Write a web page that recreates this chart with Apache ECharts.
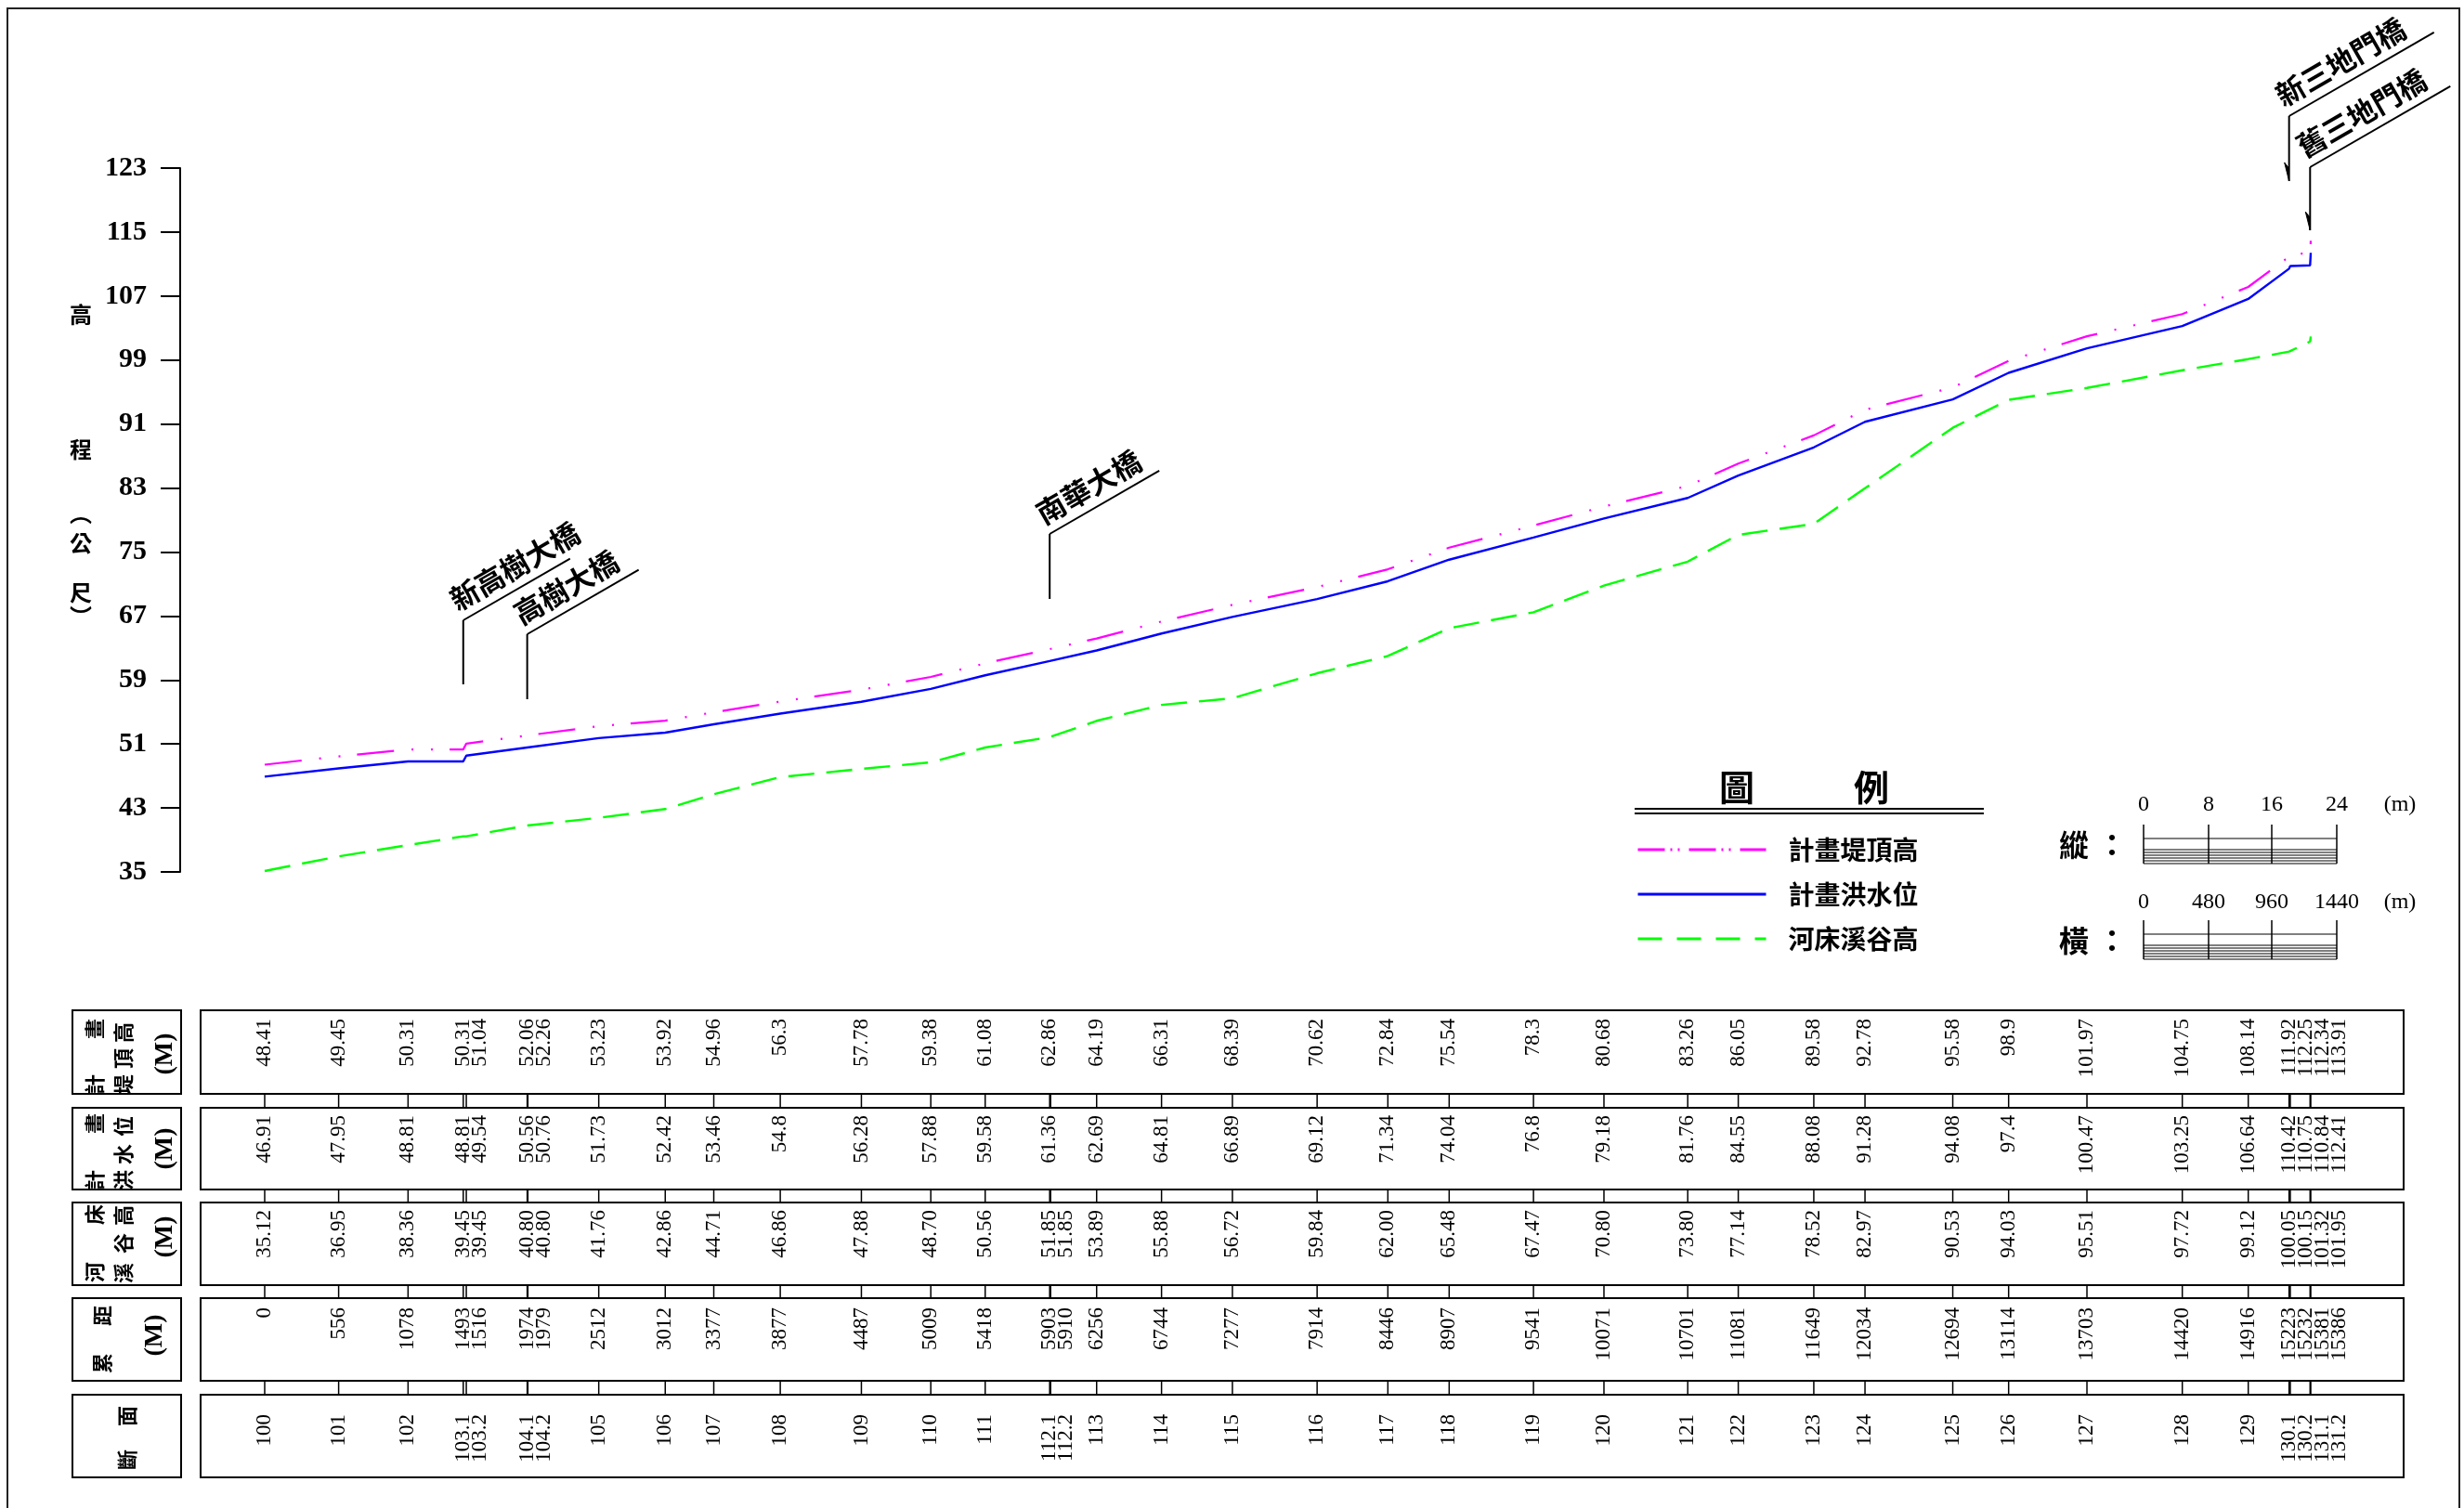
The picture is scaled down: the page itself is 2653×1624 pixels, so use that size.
<!DOCTYPE html>
<html><head><meta charset="utf-8">
<script src="https://cdn.jsdelivr.net/npm/echarts@6/dist/echarts.min.js"></script>
<style>html,body{margin:0;padding:0;background:#fff}#c{width:2653px;height:1624px}</style>
</head><body><div id="c"></div>
<script>
// ---------------- DATA ----------------
const sections = ['100','101','102','103.1','103.2','104.1','104.2','105','106','107','108','109','110','111','112.1','112.2','113','114','115','116','117','118','119','120','121','122','123','124','125','126','127','128','129','130.1','130.2','131.1','131.2'];
const distances = [0,556,1078,1493,1516,1974,1979,2512,3012,3377,3877,4487,5009,5418,5903,5910,6256,6744,7277,7914,8446,8907,9541,10071,10701,11081,11649,12034,12694,13114,13703,14420,14916,15223,15232,15381,15386];
const dikeTop = [48.41,49.45,50.31,50.31,51.04,52.06,52.26,53.23,53.92,54.96,56.3,57.78,59.38,61.08,62.86,null,64.19,66.31,68.39,70.62,72.84,75.54,78.3,80.68,83.26,86.05,89.58,92.78,95.58,98.9,101.97,104.75,108.14,111.92,112.25,112.34,113.91];
const floodLevel = [46.91,47.95,48.81,48.81,49.54,50.56,50.76,51.73,52.42,53.46,54.8,56.28,57.88,59.58,61.36,null,62.69,64.81,66.89,69.12,71.34,74.04,76.8,79.18,81.76,84.55,88.08,91.28,94.08,97.4,100.47,103.25,106.64,110.42,110.75,110.84,112.41];
const bedLevel = [35.12,36.95,38.36,39.45,39.45,40.80,40.80,41.76,42.86,44.71,46.86,47.88,48.70,50.56,51.85,51.85,53.89,55.88,56.72,59.84,62.00,65.48,67.47,70.80,73.80,77.14,78.52,82.97,90.53,94.03,95.51,97.72,99.12,100.05,100.15,101.32,101.95];
const yTicks = [35,43,51,59,67,75,83,91,99,107,115,123];
const seriesNames = ['計畫堤頂高','計畫洪水位','河床溪谷高'];
const bridgeNames = ['新高樹大橋','高樹大橋','南華大橋','新三地門橋','舊三地門橋'];
const bridgeDistances = [1493,1974,5903,15223,15381];
const vScaleLabels = ['0','8','16','24','(m)'];
const hScaleLabels = ['0','480','960','1440','(m)'];

// ---------------- LAYOUT ----------------
const SERIF = '"Liberation Serif","Times New Roman",serif';
const CJK = '"Noto Sans CJK TC","Noto Sans CJK SC",sans-serif';
const ROWS = [{top:1088,bottom:1178},{top:1193,bottom:1281},{top:1295,bottom:1384},{top:1398,bottom:1487},{top:1502,bottom:1591}];
const LABEL_OFFSET = [9,8,8,10,21];
const STACK_PITCH = 18;
const BRIDGE_LAYOUT = [
  {bottom:737, top:668, dx:115, arrow:false},
  {bottom:753, top:683, dx:120, arrow:false},
  {bottom:645, top:575, dx:118, arrow:false},
  {bottom:195, top:125, dx:156, arrow:true},
  {bottom:248, top:180, dx:151, arrow:true}
];

const rowLabels = [
  dikeTop.map(v => v == null ? '' : String(v)),
  floodLevel.map(v => v == null ? '' : String(v)),
  bedLevel.map(v => v.toFixed(2)),
  distances.map(String),
  sections
];

function stacked(xs, labels){
  const out = []; let prev = -1e9;
  for (let i = 0; i < xs.length; i++){
    if (!labels[i]) { out.push(null); continue; }
    const p = Math.max(xs[i], prev + STACK_PITCH);
    out.push(p); prev = p;
  }
  return out;
}

function renderTable(params, api){
  const i = params.dataIndex;
  const xs = distances.map(d => api.coord([d, 35])[0]);
  const x = xs[i];
  const children = [];
  for (let g = 0; g < 4; g++){
    children.push({type:'line', shape:{x1:x, y1:ROWS[g].bottom, x2:x, y2:ROWS[g+1].top},
      style:{stroke:'#000', lineWidth:1.5}});
  }
  rowLabels.forEach((labels, r) => {
    const pos = stacked(xs, labels);
    if (pos[i] == null) return;
    children.push({type:'text', x:pos[i], y:ROWS[r].top + LABEL_OFFSET[r], rotation:Math.PI/2,
      style:{text:labels[i], font:'23px ' + SERIF, fill:'#000',
        align:'right', verticalAlign:'middle', textAlign:'right', textVerticalAlign:'middle'}});
  });
  return {type:'group', children};
}

function renderBridge(params, api){
  const i = params.dataIndex;
  const L = BRIDGE_LAYOUT[i];
  const x = api.coord([api.value(0), 35])[0];
  const ang = Math.PI / 6;
  const ex = x + L.dx, ey = L.top - L.dx * Math.tan(ang);
  const children = [
    {type:'line', shape:{x1:x, y1:L.bottom, x2:x, y2:L.top}, style:{stroke:'#000', lineWidth:2}},
    {type:'line', shape:{x1:x, y1:L.top, x2:ex, y2:ey}, style:{stroke:'#000', lineWidth:2}},
    {type:'text', x:x - 4, y:L.top - 6, rotation:ang,
      style:{text:bridgeNames[i], font:'bold 31px ' + CJK, fill:'#000',
        align:'left', verticalAlign:'bottom', textAlign:'left', textVerticalAlign:'bottom'}}
  ];
  if (L.arrow){
    children.push({type:'polygon', shape:{points:[[x, L.bottom], [x - 5, L.bottom - 20], [x - 1, L.bottom - 15]]},
      style:{fill:'#000', stroke:'#000', lineWidth:1}});
  }
  return {type:'group', children};
}

// ---------------- STATIC GRAPHICS ----------------
const graphics = [];
graphics.push({type:'rect', shape:{x:8, y:9, width:2640, height:1700}, style:{fill:'none', stroke:'#222', lineWidth:2}});
ROWS.forEach(r => {
  graphics.push({type:'rect', shape:{x:78, y:r.top, width:117, height:r.bottom - r.top}, style:{fill:'none', stroke:'#000', lineWidth:2}});
  graphics.push({type:'rect', shape:{x:216, y:r.top, width:2372, height:r.bottom - r.top}, style:{fill:'none', stroke:'#000', lineWidth:2}});
});
const HEADER = [
  ['計',102,1168],['畫',102,1108],['堤',133,1168],['頂',133,1140],['高',133,1112],
  ['計',102,1271],['畫',102,1210],['洪',133,1271],['水',133,1243],['位',133,1213],
  ['河',102,1370],['床',102,1308],['溪',133,1371],['谷',133,1339],['高',133,1309],
  ['累',110,1468],['距',110,1417],
  ['斷',137,1572],['面',137,1525]
];
HEADER.forEach(([t, x, y]) => graphics.push({type:'text', x, y, rotation:Math.PI/2,
  style:{text:t, font:'bold 22px ' + CJK, fill:'#000', align:'center', verticalAlign:'middle', textAlign:'center', textVerticalAlign:'middle'}}));
[[178,1135],[178,1237],[178,1332],[167,1438]].forEach(([x, y]) => graphics.push({type:'text', x, y, rotation:Math.PI/2,
  style:{text:'(M)', font:'bold 28px ' + SERIF, fill:'#000', align:'center', verticalAlign:'middle', textAlign:'center', textVerticalAlign:'middle'}}));
// y-axis name
[['高',339],['程',484],['︵',553],['公',585],['尺',638],['︶',664]].forEach(([t, y]) => graphics.push({type:'text', x:87, y,
  style:{text:t, font:'bold 24px ' + CJK, fill:'#000', align:'center', verticalAlign:'middle', textAlign:'center', textVerticalAlign:'middle'}}));
// legend title
[['圖',1870],['例',2015]].forEach(([t, x]) => graphics.push({type:'text', x, y:848,
  style:{text:t, font:'bold 38px ' + CJK, fill:'#000', align:'center', verticalAlign:'middle', textAlign:'center', textVerticalAlign:'middle'}}));
graphics.push({type:'line', shape:{x1:1760, y1:871, x2:2136, y2:871}, style:{stroke:'#000', lineWidth:2}});
graphics.push({type:'line', shape:{x1:1760, y1:876, x2:2136, y2:876}, style:{stroke:'#000', lineWidth:2}});
// scale bars
const SCALE_X = [2308,2378,2446,2516,2584];
function scaleBar(name, labels, labelY, top){
  graphics.push({type:'text', x:2233, y:top + 22, style:{text:name, font:'bold 32px ' + CJK, fill:'#000', align:'center', verticalAlign:'middle', textAlign:'center', textVerticalAlign:'middle'}});
  graphics.push({type:'text', x:2274, y:top + 22, style:{text:'：', font:'bold 32px ' + CJK, fill:'#000', align:'center', verticalAlign:'middle', textAlign:'center', textVerticalAlign:'middle'}});
  labels.forEach((t, k) => graphics.push({type:'text', x:SCALE_X[k], y:labelY,
    style:{text:t, font:'24px ' + SERIF, fill:'#000', align:'center', verticalAlign:'middle', textAlign:'center', textVerticalAlign:'middle'}}));
  for (let k = 0; k < 4; k++) graphics.push({type:'line', shape:{x1:SCALE_X[k], y1:top, x2:SCALE_X[k], y2:top + 42}, style:{stroke:'#000', lineWidth:1.5}});
  [15, 27, 30, 33, 36, 39, 42].forEach(dy => graphics.push({type:'line', shape:{x1:2308, y1:top + dy, x2:2516, y2:top + dy}, style:{stroke:'#000', lineWidth:1.2}}));
}
scaleBar('縱', vScaleLabels, 867, 888);
scaleBar('橫', hScaleLabels, 972, 991);

// ---------------- CHART ----------------
const chart = echarts.init(document.getElementById('c'), null, {renderer:'canvas'});
const pair = arr => distances.map((d, i) => [d, arr[i]]);
chart.setOption({
  animation:false,
  backgroundColor:'#fff',
  grid:{left:285, top:181, width:2203, height:758, containLabel:false, outerBoundsMode:'none'},
  xAxis:{type:'value', min:0, max:15386, show:false},
  yAxis:{type:'value', min:35, max:123, position:'left', offset:91,
    axisLine:{show:true, onZero:false, lineStyle:{color:'#000', width:2}},
    axisTick:{show:true, length:21, lineStyle:{color:'#000', width:2}, customValues:yTicks},
    axisLabel:{margin:36, fontFamily:SERIF, fontWeight:'bold', fontSize:30, color:'#000', customValues:yTicks},
    splitLine:{show:false}},
  legend:{left:1757, top:896, orient:'vertical', itemWidth:138, itemHeight:20, itemGap:20, selectedMode:false,
    itemStyle:{opacity:0, borderWidth:0},
    textStyle:{fontFamily:CJK, fontWeight:'bold', fontSize:28, color:'#000', lineHeight:22, padding:[0,0,0,19]},
    data:[
      {name:seriesNames[0], itemStyle:{opacity:0}, lineStyle:{type:[29,6,2,6,2,10], width:3}},
      {name:seriesNames[1], itemStyle:{opacity:0}, lineStyle:{width:3}},
      {name:seriesNames[2], itemStyle:{opacity:0}, lineStyle:{type:[26,16], width:3}}
    ]},
  graphic:graphics,
  series:[
    {name:seriesNames[0], type:'line', data:pair(dikeTop), symbol:'none', connectNulls:true,
      lineStyle:{color:'#FF00FF', width:2.2, type:[40,19,2,19,2,18]}, itemStyle:{color:'#FF00FF'}, z:3},
    {name:seriesNames[1], type:'line', data:pair(floodLevel), symbol:'none', connectNulls:true,
      lineStyle:{color:'#0000FF', width:2.4, type:'solid'}, itemStyle:{color:'#0000FF'}, z:4},
    {name:seriesNames[2], type:'line', data:pair(bedLevel), symbol:'none',
      lineStyle:{color:'#00FF00', width:2.4, type:[28,13]}, itemStyle:{color:'#00FF00'}, z:3},
    {type:'custom', name:'table', data:distances.map(d => [d]), encode:{x:0}, renderItem:renderTable, silent:true, clip:false, z:5},
    {type:'custom', name:'bridges', data:bridgeDistances.map(d => [d]), encode:{x:0}, renderItem:renderBridge, silent:true, clip:false, z:5}
  ]
});
</script></body></html>
